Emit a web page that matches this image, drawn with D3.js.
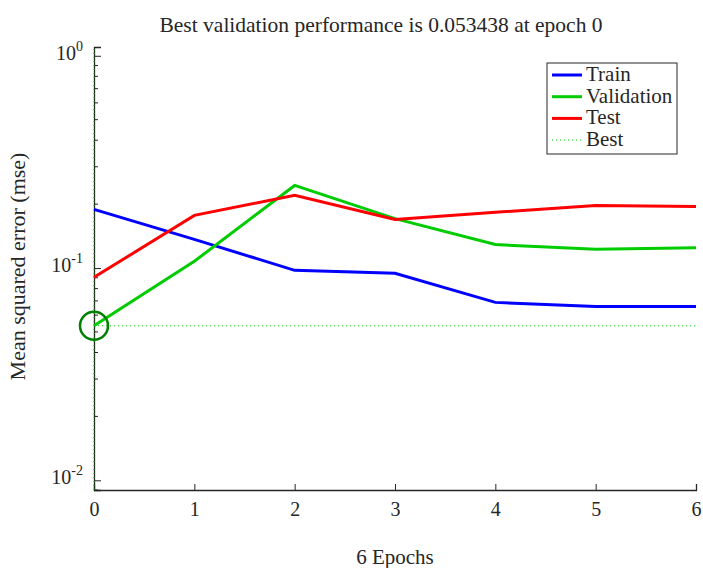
<!DOCTYPE html>
<html>
<head>
<meta charset="utf-8">
<script src="https://cdn.jsdelivr.net/npm/d3@7"></script>
<style>
  body { margin: 0; background: #fff; }
  text { font-family: "Liberation Serif", "Times New Roman", serif; fill: #262626; }
</style>
</head>
<body>
<div id="graph"></div>
<script>
// Data
const epochs = [0, 1, 2, 3, 4, 5, 6];
const trainPerf = [0.189, 0.1365, 0.0975, 0.0944, 0.0689, 0.0659, 0.0659];
const valPerf = [0.053438, 0.1076, 0.245, 0.171, 0.129, 0.1225, 0.1245];
const testPerf = [0.0904, 0.177, 0.220, 0.1695, 0.183, 0.197, 0.195];
const bestEpoch = 0;
const bestPerf = 0.053438;
const yDecades = [-2, -1, 0];
const seriesNames = ['Train', 'Validation', 'Test', 'Best'];

const width = 703, height = 568;
const margin = { top: 47, right: 7, bottom: 78, left: 94 };

const svg = d3.select('#graph').append('svg')
    .attr('width', width)
    .attr('height', height);

const x = d3.scaleLinear()
    .domain([0, 6])
    .range([margin.left, width - margin.right]);

const y = d3.scaleLog()
    .domain([0.009, 1.1])
    .range([height - margin.bottom, margin.top]);

const axisColor = '#262626';

// title
svg.append('text')
    .attr('x', 381)
    .attr('y', 32)
    .attr('text-anchor', 'middle')
    .style('font-size', '21.5px')
    .text('Best validation performance is 0.053438 at epoch 0');

// x axis (ticks inward)
const xAxis = svg.append('g')
    .attr('transform', `translate(0,${height - margin.bottom})`)
    .call(d3.axisBottom(x).tickValues(epochs).tickSize(-6).tickPadding(12).tickFormat(d3.format('d')));
xAxis.select('.domain').attr('stroke', axisColor).attr('stroke-width', 1.3);
xAxis.selectAll('.tick line').attr('stroke', axisColor);
xAxis.selectAll('.tick text')
    .style('font-size', '20px').style('font-family', '"Liberation Serif", serif').attr('fill', axisColor);

// y axis minor ticks (2..9 in each decade)
const minorVals = [];
[-3, -2, -1].forEach(e => {
    for (let k = 2; k <= 9; k++) {
        const v = k * Math.pow(10, e);
        if (v >= 0.009 && v <= 1.1) minorVals.push(v);
    }
});
const yAxis = svg.append('g')
    .attr('transform', `translate(${margin.left},0)`)
    .call(d3.axisLeft(y).tickValues(yDecades.map(e => Math.pow(10, e))).tickSize(-7).tickFormat(''));
yAxis.select('.domain').attr('stroke', axisColor).attr('stroke-width', 1.3);
yAxis.selectAll('.tick line').attr('stroke', axisColor);

svg.append('g').selectAll('line.minor')
    .data(minorVals)
    .enter().append('line')
    .attr('x1', margin.left).attr('x2', margin.left + 4)
    .attr('y1', d => y(d)).attr('y2', d => y(d))
    .attr('stroke', axisColor).attr('stroke-width', 1);

// y tick labels 10^e
const yLab = svg.append('g').selectAll('text.ylab')
    .data(yDecades)
    .enter().append('text')
    .attr('x', margin.left - 11)
    .attr('y', d => y(Math.pow(10, d)) + 4)
    .attr('text-anchor', 'end')
    .style('font-size', '20px');
yLab.append('tspan').text('10');
yLab.append('tspan').attr('dy', -9).style('font-size', '14px').text(d => d);

// y label
svg.append('text')
    .attr('transform', `translate(25,${(margin.top + height - margin.bottom) / 2 - 2}) rotate(-90)`)
    .attr('text-anchor', 'middle')
    .style('font-size', '22px')
    .text('Mean squared error (mse)');

// x label
svg.append('text')
    .attr('x', (margin.left + width - margin.right) / 2)
    .attr('y', 564)
    .attr('text-anchor', 'middle')
    .style('font-size', '21px')
    .text('6 Epochs');

// best markers
svg.append('line')
    .attr('x1', x(bestEpoch)).attr('x2', x(bestEpoch))
    .attr('y1', y(0.009)).attr('y2', y(1.1))
    .attr('stroke', '#00cc00').attr('stroke-width', 1).attr('stroke-dasharray', '1,3');
svg.append('line')
    .attr('x1', x(0)).attr('x2', x(6))
    .attr('y1', y(bestPerf)).attr('y2', y(bestPerf))
    .attr('stroke', '#00cc00').attr('stroke-width', 1).attr('stroke-dasharray', '1,3');

// series lines
const line = d3.line()
    .x((d, i) => x(epochs[i]))
    .y(d => y(d));

const series = [
    { name: 'Train', values: trainPerf, color: '#0000ff' },
    { name: 'Validation', values: valPerf, color: '#00cc00' },
    { name: 'Test', values: testPerf, color: '#ff0000' }
];

svg.selectAll('.series')
    .data(series)
    .enter().append('path')
    .attr('class', 'series')
    .attr('d', d => line(d.values))
    .attr('fill', 'none')
    .attr('stroke', d => d.color)
    .attr('stroke-width', 3);

svg.append('circle')
    .attr('cx', x(bestEpoch))
    .attr('cy', y(bestPerf))
    .attr('r', 14)
    .attr('fill', 'none')
    .attr('stroke', '#008000')
    .attr('stroke-width', 2.5);

// legend
const legend = svg.append('g').attr('transform', 'translate(547,63)');
legend.append('rect')
    .attr('width', 130).attr('height', 91)
    .attr('fill', '#fff').attr('stroke', axisColor).attr('stroke-width', 1);
const legendColors = ['#0000ff', '#00cc00', '#ff0000', '#00cc00'];
seriesNames.forEach((name, i) => {
    const ly = 12 + i * 21.7;
    legend.append('line')
        .attr('x1', 5).attr('x2', 35)
        .attr('y1', ly).attr('y2', ly)
        .attr('stroke', legendColors[i])
        .attr('stroke-width', i < 3 ? 3 : 1)
        .attr('stroke-dasharray', i < 3 ? null : '1,3');
    legend.append('text')
        .attr('x', 39).attr('y', ly + 6)
        .style('font-size', '21px')
        .text(name);
});
</script>
</body>
</html>
